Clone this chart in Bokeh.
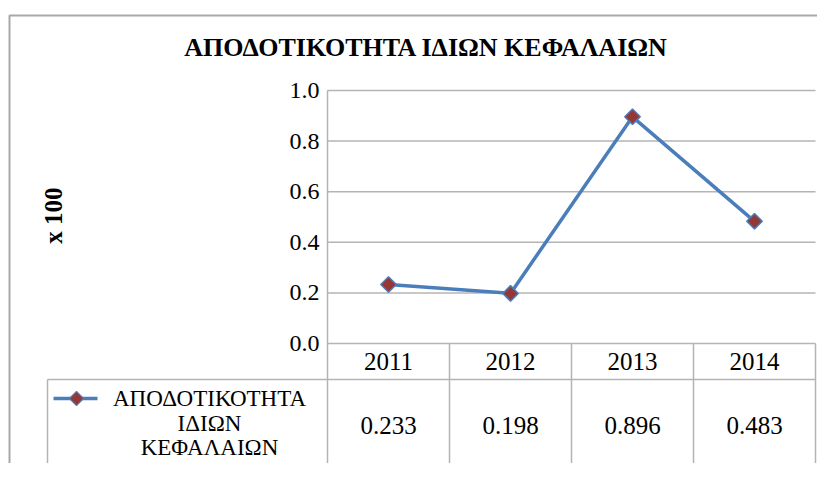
import numpy as np
from bokeh.plotting import figure
from bokeh.models import Range1d, ColumnDataSource
from bokeh.core.properties import value
from bokeh.embed import file_html
from bokeh.resources import INLINE

# ---- data ----
title_text = "ΑΠΟΔΟΤΙΚΟΤΗΤΑ  ΙΔΙΩΝ ΚΕΦΑΛΑΙΩΝ"
y_label = "x 100"
years = ["2011", "2012", "2013", "2014"]
values = [0.233, 0.198, 0.896, 0.483]
value_labels = ["0.233", "0.198", "0.896", "0.483"]
y_ticks = [0.0, 0.2, 0.4, 0.6, 0.8, 1.0]
y_tick_labels = ["0.0", "0.2", "0.4", "0.6", "0.8", "1.0"]
series_name_lines = ["ΑΠΟΔΟΤΙΚΟΤΗΤΑ", "ΙΔΙΩΝ", "ΚΕΦΑΛΑΙΩΝ"]

# ---- layout geometry (canvas pixels) ----
W, H = 817, 463
PLOT_LEFT = 327.0                # canvas x of category axis start
COL_W = (815.0 - PLOT_LEFT) / 4  # pixels per category
ZERO_Y = 343.0                   # canvas y of value 0
UNIT_H = 253.0                   # pixels per 1.0 of value

def X(px):  # canvas x -> data x
    return (px - PLOT_LEFT) / COL_W

def Y(py):  # canvas y -> data y
    return (ZERO_Y - py) / UNIT_H

p = figure(width=W, height=H, output_backend="svg", toolbar_location=None,
           x_range=Range1d(-PLOT_LEFT / COL_W, (W - PLOT_LEFT) / COL_W),
           y_range=Range1d(-(H - ZERO_Y) / UNIT_H, ZERO_Y / UNIT_H),
           x_axis_location=None, y_axis_location=None, min_border=0,
           tools="")
p.outline_line_color = None
p.grid.visible = False
p.background_fill_color = "white"
p.border_fill_color = "white"

SERIF = value("Liberation Serif")
GRID = "#B4B4B4"
ncat = len(years)

# outer chart frame (left and top edges visible)
p.line(x=[X(9), X(9), X(900)], y=[Y(600), Y(15), Y(15)], line_color="#A8A8A8", line_width=2)

# title
p.text(x=[X(429)], y=[Y(47)], text=[title_text], text_font=SERIF, text_font_style="bold",
       text_font_size="26px", text_align="center", text_baseline="middle", text_color="black")

# y axis label
p.text(x=[X(53)], y=[Y(215)], text=[y_label], text_font=SERIF, text_font_style="bold",
       text_font_size="25px", text_align="center", text_baseline="middle", angle=np.pi / 2,
       text_color="black")

# horizontal gridlines (including axis line at 0)
p.segment(x0=[0] * len(y_ticks), x1=[ncat] * len(y_ticks), y0=y_ticks, y1=y_ticks,
          line_color=GRID, line_width=1.5)

# tick labels
p.text(x=[X(319)] * len(y_ticks), y=y_ticks, text=y_tick_labels, text_font=SERIF,
       text_font_size="24px", text_align="right", text_baseline="middle", text_color="black")

# left plot border + column separators through the data table
bottom = Y(600)
p.segment(x0=[0], x1=[0], y0=[max(y_ticks)], y1=[bottom], line_color=GRID, line_width=1.5)
cols = list(range(1, ncat + 1))
p.segment(x0=cols, x1=cols, y0=[0] * ncat, y1=[bottom] * ncat, line_color=GRID, line_width=1.5)

# table: header bottom line & legend cell left line
p.segment(x0=[X(47)], x1=[ncat], y0=[Y(379)], y1=[Y(379)], line_color=GRID, line_width=1.5)
p.segment(x0=[X(47)], x1=[X(47)], y0=[Y(379)], y1=[bottom], line_color=GRID, line_width=1.5)

centers = [i + 0.5 for i in range(ncat)]

# header years
p.text(x=centers, y=[Y(361)] * ncat, text=years, text_font=SERIF, text_font_size="25px",
       text_align="center", text_baseline="middle", text_color="black")

# values row
p.text(x=centers, y=[Y(425)] * ncat, text=value_labels, text_font=SERIF, text_font_size="25px",
       text_align="center", text_baseline="middle", text_color="black")

# legend key inside table
LINE_C = "#4A7EBB"
MARK_C = "#953735"
p.line(x=[X(53), X(97)], y=[Y(398), Y(398)], line_color=LINE_C, line_width=3.5)
p.scatter(x=[X(76)], y=[Y(398)], marker="square", angle=np.pi / 4, size=10,
          fill_color=MARK_C, line_color=LINE_C, line_width=1.2)
p.text(x=[X(209)] * 3, y=[Y(398), Y(423), Y(447)], text=series_name_lines, text_font=SERIF,
       text_font_size="23px", text_align="center", text_baseline="middle", text_color="black")

# the series
src = ColumnDataSource(dict(x=centers, y=values))
p.line(x="x", y="y", source=src, line_color=LINE_C, line_width=3.5)
p.scatter(x="x", y="y", source=src, marker="square", angle=np.pi / 4, size=11,
          fill_color=MARK_C, line_color=LINE_C, line_width=1.5)

open("out.html", "w").write(file_html(p, INLINE))
